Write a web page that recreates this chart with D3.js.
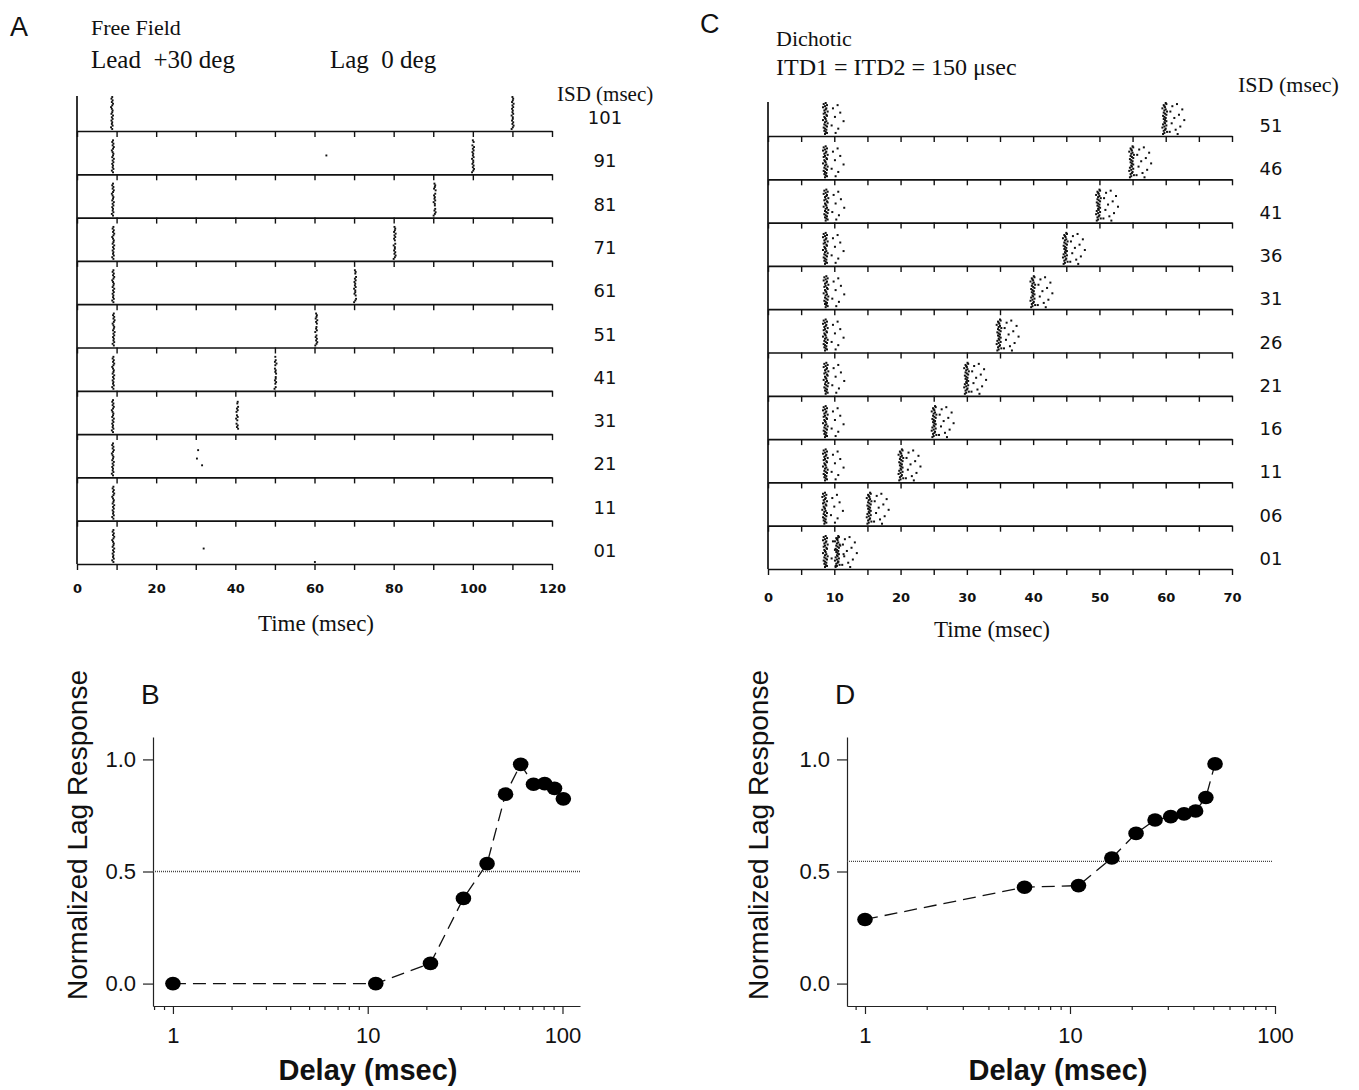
<!DOCTYPE html>
<html lang="en">
<head>
<meta charset="UTF-8">
<script src="https://d3js.org/d3.v7.min.js"></script>
<style>
  body { margin: 0; background: #fff; }
  .serif { font-family: 'Liberation Serif', 'Times New Roman', serif; fill: #111; }
  .sans { font-family: 'Liberation Sans', Arial, sans-serif; fill: #111; }
  .wide { font-family: 'DejaVu Sans', Verdana, sans-serif; fill: #111; }
</style>
<title>Precedence rasters</title>
</head>
<body>
<svg id="fig" width="1359" height="1090"></svg>
<script>
// ---- panel A: free field rasters ----
const isdA = ['101', '91', '81', '71', '61', '51', '41', '31', '21', '11', '01']
const leadLatA = [8.8, 9.0, 9.0, 9.1, 9.1, 9.2, 9.1, 9.0, 9.0, 9.1, 9.1]
const lagLatA = [110.0, 100.0, 90.3, 80.2, 70.2, 60.4, 50.1, 40.4, null, null, null]
const lagMissA = [[], [2], [5, 14], [9], [3, 16], [7, 12], [1, 6, 11, 17], [0, 3, 8, 13, 18, 19], [], [], []]
const strayA = [[], [[63, 9]], [], [], [], [], [], [], [[30.6, 4], [30.3, 9], [31.6, 13]], [], [[32.0, 11], [60.1, 19]]]
const jitterA = [0.1, -0.1, 0.2, 0.0, 0.3, 0.1, -0.2, 0.0, 0.2, 0.1, -0.1, 0.3, 0.0, 0.2, -0.1, 0.1, 0.0, 0.2, -0.2, 0.1]
const ticksA = [0, 10, 20, 30, 40, 50, 60, 70, 80, 90, 100, 110, 120]
const tickLabelsA = [0, 20, 40, 60, 80, 100, 120]

// ---- panel C: dichotic rasters ----
const isdC = ['51', '46', '41', '36', '31', '26', '21', '16', '11', '06', '01']
const leadLatC = [8.6, 8.6, 8.7, 8.6, 8.7, 8.6, 8.7, 8.6, 8.6, 8.5, 8.6]
const lagLatC = [59.6, 54.6, 49.6, 44.6, 39.7, 34.6, 29.7, 24.8, 19.8, 15.0, 10.2]
const jitterC = [0.1, -0.2, 0.3, 0.0, -0.3, 0.2, 0.1, -0.1, 0.4, 0.0, -0.2, 0.2, 0.3, -0.1, 0.0,
                 0.1, -0.3, 0.2, 0.0, 0.4, -0.1, 0.1, 0.3, -0.2, 0.0, 0.2, -0.1, 0.1, 0.3, 0.0]
const leadExtraC = [[2, 1.9], [5, 1.2], [9, 2.3], [13, 1.5], [17, 2.8], [21, 1.0], [24, 2.0], [28, 1.6]]
const lagExtraC = [[1, 2.1], [3, 1.4], [6, 2.9], [8, 1.1], [11, 2.4], [14, 1.7], [16, 3.2], [19, 1.3],
                   [22, 2.6], [25, 1.9], [27, 1.0], [29, 2.2]]
const ticksC = [0, 5, 10, 15, 20, 25, 30, 35, 40, 45, 50, 55, 60, 65, 70]
const tickLabelsC = [0, 10, 20, 30, 40, 50, 60, 70]

// ---- panel B / D: normalized lag response ----
const delayB = [1, 11, 21, 31, 41, 51, 61, 71, 81, 91, 101]
const respB = [0.0, 0.0, 0.09, 0.38, 0.535, 0.845, 0.978, 0.889, 0.892, 0.871, 0.824]
const threshB = 0.5
const delayD = [1, 6, 11, 16, 21, 26, 31, 36, 41, 46, 51]
const respD = [0.286, 0.43, 0.437, 0.56, 0.67, 0.73, 0.745, 0.757, 0.77, 0.83, 0.98]
const threshD = 0.545
const yTicks = [0.0, 0.5, 1.0]
const xMajor = [1, 10, 100]
const xMinorB = [0.8, 0.9, 2, 3, 4, 5, 6, 7, 8, 9, 20, 30, 40, 50, 60, 70, 80, 90]
const xMinorD = [0.9, 2, 3, 4, 5, 6, 7, 8, 9, 20, 30, 40, 50, 60, 70, 80, 90]

const svg = d3.select('#fig')

function drawRaster(cfg) {
    const g = svg.append('g')
    const x = d3.scaleLinear().domain([0, cfg.xMax]).range([cfg.x0, cfg.x1])
    const base = d3.scalePoint().domain(cfg.rows).range([cfg.firstBase, cfg.lastBase])
    const trialY = d3.scaleLinear().domain([0, cfg.nTrials - 1]).range([-cfg.span, -2])

    // rows: baseline + ticks
    cfg.rows.forEach(r => {
        const ax = g.append('g')
            .attr('transform', `translate(0,${base(r)})`)
            .call(d3.axisBottom(x).tickValues(cfg.ticks).tickSize(6).tickSizeOuter(0).tickFormat(''))
        ax.select('.domain').attr('stroke', '#111').attr('stroke-width', 1.7)
        ax.selectAll('.tick line').attr('stroke', '#111').attr('stroke-width', 1.4)
    })

    g.append('line')
        .attr('x1', cfg.x0).attr('x2', cfg.x0)
        .attr('y1', cfg.firstBase - cfg.span - 1).attr('y2', cfg.lastBase)
        .attr('stroke', '#111').attr('stroke-width', 1.7)

    // tick labels under the last row
    const lab = g.append('g')
        .attr('transform', `translate(0,${cfg.lastBase})`)
        .call(d3.axisBottom(x).tickValues(cfg.tickLabels).tickSize(0).tickPadding(cfg.labelPad))
    lab.select('.domain').remove()
    lab.selectAll('text')
        .attr('class', 'wide')
        .style('font-size', '13px')
        .style('font-weight', 'bold')
        .attr('fill', '#111')

    g.append('text').attr('class', 'serif')
        .attr('x', cfg.titleX).attr('y', cfg.titleY)
        .attr('text-anchor', 'middle')
        .style('font-size', '23px')
        .text('Time (msec)')

    // spikes
    const spikes = cfg.spikes(base)
    g.selectAll('rect.spike').data(spikes).join('rect')
        .attr('class', 'spike')
        .attr('x', d => x(d.t) - cfg.dot / 2)
        .attr('y', d => base(d.row) + trialY(d.trial) - cfg.dot / 2)
        .attr('width', cfg.dot).attr('height', cfg.dot)
        .attr('fill', '#111')

    // ISD labels
    g.selectAll('text.isd').data(cfg.rows).join('text')
        .attr('class', 'wide isd')
        .attr('x', cfg.isdX)
        .attr('y', d => base(d) - cfg.isdLift)
        .attr('text-anchor', 'middle')
        .style('font-size', '18px')
        .text(d => d)
}

drawRaster({
    rows: isdA, xMax: 120, x0: 77, x1: 552, firstBase: 131, lastBase: 564,
    nTrials: 20, span: 34, dot: 1.9, ticks: ticksA, tickLabels: tickLabelsA, labelPad: 20,
    titleX: 316, titleY: 631, isdX: 605, isdLift: 7,
    spikes: () => {
        const out = []
        isdA.forEach((r, i) => {
            jitterA.forEach((j, k) => {
                out.push({ row: r, trial: k, t: leadLatA[i] + j })
                if (lagLatA[i] !== null && !lagMissA[i].includes(k)) {
                    out.push({ row: r, trial: k, t: lagLatA[i] + jitterA[(k + 7) % 20] })
                }
            })
            strayA[i].forEach(s => out.push({ row: r, trial: s[1], t: s[0] }))
        })
        return out
    }
})

drawRaster({
    rows: isdC, xMax: 70, x0: 768, x1: 1232, firstBase: 136, lastBase: 569,
    nTrials: 30, span: 33, dot: 2, ticks: ticksC, tickLabels: tickLabelsC, labelPad: 24,
    titleX: 992, titleY: 637, isdX: 1271, isdLift: 4,
    spikes: () => {
        const out = []
        isdC.forEach((r, i) => {
            jitterC.forEach((j, k) => {
                out.push({ row: r, trial: k, t: leadLatC[i] + j })
                out.push({ row: r, trial: k, t: lagLatC[i] + 0.2 + jitterC[(k + 11) % 30] })
            })
            leadExtraC.forEach(e => out.push({ row: r, trial: e[0], t: leadLatC[i] + e[1] }))
            lagExtraC.forEach(e => out.push({ row: r, trial: e[0], t: lagLatC[i] + e[1] }))
        })
        return out
    }
})

// header text
svg.append('text').attr('class', 'sans').attr('x', 10).attr('y', 36).style('font-size', '27px').text('A')
svg.append('text').attr('class', 'serif').attr('x', 91).attr('y', 35).style('font-size', '22px').text('Free Field')
svg.append('text').attr('class', 'serif').attr('x', 91).attr('y', 68).style('font-size', '25px')
    .attr('xml:space', 'preserve').text('Lead  +30 deg')
svg.append('text').attr('class', 'serif').attr('x', 330).attr('y', 68).style('font-size', '25px')
    .attr('xml:space', 'preserve').text('Lag  0 deg')
svg.append('text').attr('class', 'serif').attr('x', 557).attr('y', 101).style('font-size', '21px').text('ISD (msec)')

svg.append('text').attr('class', 'sans').attr('x', 700).attr('y', 33).style('font-size', '27px').text('C')
svg.append('text').attr('class', 'serif').attr('x', 776).attr('y', 46).style('font-size', '22px').text('Dichotic')
svg.append('text').attr('class', 'serif').attr('x', 776).attr('y', 75).style('font-size', '24px').text('ITD1 = ITD2 = 150 μsec')
svg.append('text').attr('class', 'serif').attr('x', 1238).attr('y', 92).style('font-size', '22px').text('ISD (msec)')

function drawCurve(cfg) {
    const g = svg.append('g')
    const x = d3.scaleLog().domain(cfg.xDomain).range([cfg.left, cfg.right])
    const y = d3.scaleLinear().domain([-0.1, 1.1]).range([1006, 737])

    const yAx = g.append('g').attr('transform', `translate(${cfg.left},0)`)
        .call(d3.axisLeft(y).tickValues(yTicks).tickFormat(d3.format('.1f')).tickSize(10).tickSizeOuter(0).tickPadding(7))
    const xAx = g.append('g').attr('transform', 'translate(0,1006)')
        .call(d3.axisBottom(x).tickValues(xMajor).tickFormat(d3.format('d')).tickSize(8).tickSizeOuter(0).tickPadding(13))
    const xMin = g.append('g').attr('transform', 'translate(0,1006)')
        .call(d3.axisBottom(x).tickValues(cfg.minor).tickFormat('').tickSize(4).tickSizeOuter(0))
    xMin.select('.domain').remove()
    ;[yAx, xAx, xMin].forEach(a => {
        a.selectAll('.domain, .tick line').attr('stroke', '#222').attr('stroke-width', 1.2)
        a.selectAll('text').attr('class', 'sans').style('font-size', '22px').attr('fill', '#111')
    })

    g.append('line')
        .attr('x1', cfg.left).attr('x2', cfg.threshEnd)
        .attr('y1', y(cfg.thresh)).attr('y2', y(cfg.thresh))
        .attr('stroke', '#444').attr('stroke-width', 1.3).attr('stroke-dasharray', '1,1')

    const pts = cfg.delay.map((d, i) => [d, cfg.resp[i]])
    g.append('path')
        .attr('d', d3.line().x(d => x(d[0])).y(d => y(d[1]))(pts))
        .attr('fill', 'none').attr('stroke', '#111').attr('stroke-width', 1.3)
        .attr('stroke-dasharray', '13,7')

    g.selectAll('ellipse').data(pts).join('ellipse')
        .attr('cx', d => x(d[0])).attr('cy', d => y(d[1]))
        .attr('rx', 7.8).attr('ry', 6.8).attr('fill', '#000')

    g.append('text').attr('class', 'sans')
        .attr('transform', `translate(${cfg.titleX},835) rotate(-90)`)
        .attr('text-anchor', 'middle')
        .style('font-size', '28px')
        .text('Normalized Lag Response')

    g.append('text').attr('class', 'sans')
        .attr('x', cfg.delayX).attr('y', 1080)
        .attr('text-anchor', 'middle')
        .style('font-size', '29px').style('font-weight', 'bold')
        .text('Delay (msec)')

    g.append('text').attr('class', 'sans')
        .attr('x', cfg.letterX).attr('y', 704)
        .style('font-size', '28px')
        .text(cfg.letter)
}

drawCurve({
    delay: delayB, resp: respB, thresh: threshB, minor: xMinorB,
    xDomain: [0.79, 123], left: 153, right: 580, threshEnd: 580,
    titleX: 87, delayX: 368, letterX: 141, letter: 'B'
})

drawCurve({
    delay: delayD, resp: respD, thresh: threshD, minor: xMinorD,
    xDomain: [0.817, 100], left: 847, right: 1275, threshEnd: 1272,
    titleX: 768, delayX: 1058, letterX: 835, letter: 'D'
})
</script>
</body>
</html>
